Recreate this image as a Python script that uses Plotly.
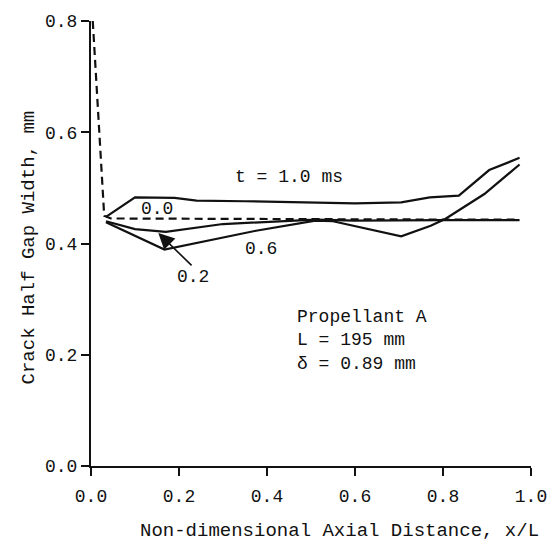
import plotly.graph_objects as go

# t = 0.0 ms (dashed)
x_t00 = [0.004, 0.03, 0.045, 0.30, 0.60, 0.80, 0.974]
y_t00 = [0.800, 0.450, 0.445, 0.444, 0.444, 0.443, 0.443]

# t = 0.2 ms
x_t02 = [0.034, 0.10, 0.17, 0.30, 0.51, 0.60, 0.80, 0.974]
y_t02 = [0.440, 0.426, 0.421, 0.435, 0.443, 0.441, 0.442, 0.442]

# t = 0.6 ms
x_t06 = [0.034, 0.167, 0.375, 0.51, 0.55, 0.705, 0.772, 0.805, 0.894, 0.974]
y_t06 = [0.438, 0.389, 0.423, 0.441, 0.440, 0.413, 0.432, 0.444, 0.489, 0.542]

# t = 1.0 ms
x_t10 = [0.034, 0.10, 0.19, 0.24, 0.35, 0.60, 0.705, 0.77, 0.836, 0.905, 0.974]
y_t10 = [0.448, 0.483, 0.482, 0.477, 0.476, 0.472, 0.474, 0.483, 0.486, 0.532, 0.554]

x_ticks = [0.0, 0.2, 0.4, 0.6, 0.8, 1.0]
y_ticks = [0.0, 0.2, 0.4, 0.6, 0.8]

FONT = "Liberation Mono"
INK = "#111111"

fig = go.Figure()
fig.add_trace(go.Scatter(x=x_t00, y=y_t00, mode="lines",
                         line=dict(color=INK, width=2.2, dash="8px,5px")))
for xs, ys in [(x_t02, y_t02), (x_t06, y_t06), (x_t10, y_t10)]:
    fig.add_trace(go.Scatter(x=xs, y=ys, mode="lines",
                             line=dict(color=INK, width=2.2)))

ann = [
    dict(x=0.45, y=0.519, text="t = 1.0 ms"),
    dict(x=0.15, y=0.462, text="0.0"),
    dict(x=0.386, y=0.39, text="0.6"),
    dict(x=0.232, y=0.34, text="0.2"),
]
annotations = []
for a in ann:
    annotations.append(dict(x=a["x"], y=a["y"], xref="x", yref="y", text=a["text"],
                            showarrow=False, font=dict(family=FONT, size=18, color=INK)))
# arrow pointing to 0.2 curve
annotations.append(dict(x=0.153, y=0.419, ax=0.232, ay=0.358, xref="x", yref="y",
                        axref="x", ayref="y", text="", showarrow=True,
                        arrowhead=2, arrowsize=2.0, arrowwidth=1.6, arrowcolor=INK))
annotations.append(dict(x=0.464, y=0.226, xref="x", yref="y", xanchor="left", yanchor="middle",
                        align="left", showarrow=False,
                        text="Propellant A<br>L = 195 mm<br>δ = 0.89 mm",
                        font=dict(family=FONT, size=18, color=INK)))
# axis titles
annotations.append(dict(x=0.564, y=-0.146, xref="paper", yref="paper",
                        xanchor="center", yanchor="middle", showarrow=False,
                        text="Non-dimensional Axial Distance, x/L",
                        font=dict(family=FONT, size=19, color=INK)))
annotations.append(dict(x=-0.141, y=0.491, xref="paper", yref="paper",
                        xanchor="center", yanchor="middle", showarrow=False, textangle=-90,
                        text="Crack Half Gap Width, mm",
                        font=dict(family=FONT, size=19, color=INK)))

fig.update_layout(
    width=559, height=544,
    margin=dict(l=91, r=18, t=20, b=78),
    paper_bgcolor="white", plot_bgcolor="white",
    showlegend=False,
    font=dict(family=FONT, size=18, color=INK),
    annotations=annotations,
)
fig.update_xaxes(range=[0, 1.0], tickvals=x_ticks, ticktext=[f"{v:.1f}" for v in x_ticks],
                 showline=True, linecolor=INK, linewidth=2, showgrid=False, zeroline=False,
                 ticks="outside", ticklen=8, tickwidth=1.5, tickcolor=INK,
                 ticklabelstandoff=4)
fig.update_yaxes(range=[0, 0.8], tickvals=y_ticks, ticktext=[f"{v:.1f}" for v in y_ticks],
                 showline=True, linecolor=INK, linewidth=2, showgrid=False, zeroline=False,
                 ticks="outside", ticklen=8, tickwidth=1.5, tickcolor=INK)

fig.write_html("out.html", config={"displayModeBar": False},
               post_script="document.body.style.margin='0';")
